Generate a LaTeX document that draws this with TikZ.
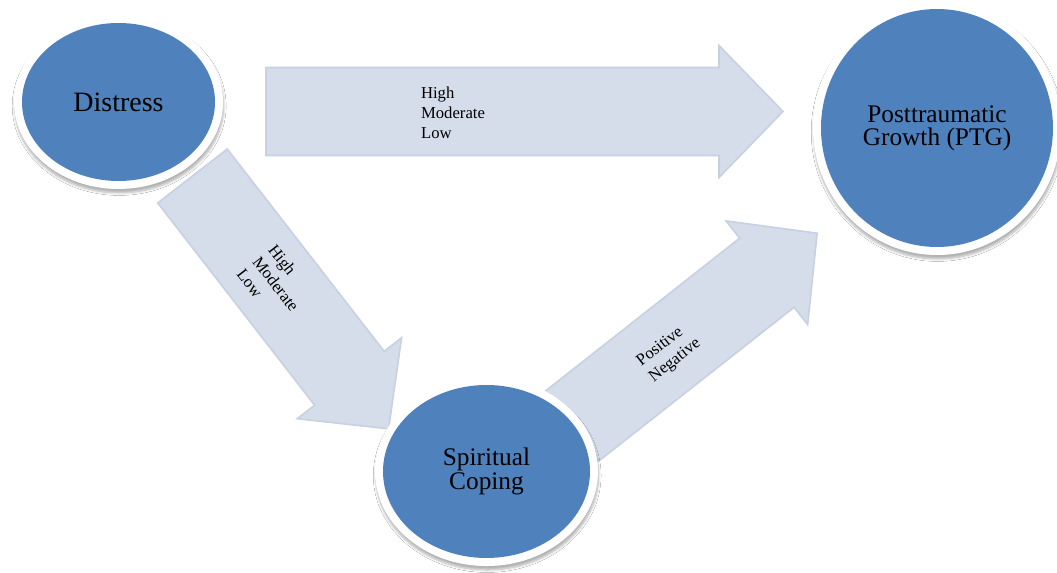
\documentclass[tikz,border=0pt]{standalone}
\usepackage{fontspec}
\setmainfont{Liberation Serif}
\usetikzlibrary{shapes.geometric,shadows.blur}

\definecolor{bubblefill}{RGB}{79,129,189}
\definecolor{arrowfill}{RGB}{213,220,234}
\definecolor{arrowline}{RGB}{200,209,226}

\pgfdeclarelayer{arrows}
\pgfdeclarelayer{halos}
\pgfsetlayers{arrows,halos,main}

% block arrow along the local x axis, tail at the origin, tip at (#1,0)
\newcommand\fatarrow[1]{(0,-44) -- (#1-64,-44) -- (#1-64,-66) -- (#1,0)
  -- (#1-64,66) -- (#1-64,44) -- (0,44) -- cycle}

\begin{document}
\begin{tikzpicture}[x=0.75pt,y=-0.75pt,
  bubble/.style={ellipse, fill=bubblefill, inner sep=0pt, align=center, text=black},
  halo/.style={fill=white, blur shadow={shadow xshift=0.5pt, shadow yshift=-3pt,
      shadow blur radius=1.8pt, shadow blur steps=6, shadow opacity=30}},
  blockarrow/.style={fill=arrowfill, draw=arrowline, line width=1.2pt, line join=miter},
  tag/.style={align=left, font=\fontsize{12.5}{15}\selectfont, inner sep=0pt},
  bigtext/.style={font=\fontsize{19}{17.5}\selectfont}]

\useasboundingbox (0,0) rectangle (1057,573);

% the three factors
\node[bubble, minimum width=144.75pt, minimum height=118.5pt,
      font=\fontsize{21}{24}\selectfont] (dis) at (118.5,102) {Distress};
\node[bubble, bigtext, minimum width=174pt, minimum height=178.5pt]
      (ptg) at (937,128) {Posttraumatic\\Growth (PTG)};
\node[bubble, bigtext, minimum width=155.25pt, minimum height=129.75pt]
      (sc) at (486.5,471.5) {Spiritual\\Coping};

% white rims with a soft shadow below each factor
\begin{pgfonlayer}{halos}
  \fill[halo] (dis.center) ellipse [x radius=78.4pt, y radius=65.25pt];
  \fill[halo] (ptg.center) ellipse [x radius=93pt, y radius=95.25pt];
  \fill[halo] (sc.center) ellipse [x radius=83.6pt, y radius=70.9pt];
\end{pgfonlayer}

% block arrows between the factors
\coordinate (t1) at (266,111.5);
\coordinate (t2) at (192.5,176);
\coordinate (t3) at (571.5,426.5);
\begin{pgfonlayer}{arrows}
  \fill[white] (0,0) rectangle (1057,573);
  \begin{scope}[shift={(t1)}]
    \draw[blockarrow] \fatarrow{517};
  \end{scope}
  \begin{scope}[shift={(t2)}, rotate=-52.2]
    \draw[blockarrow] \fatarrow{320};
  \end{scope}
  \begin{scope}[shift={(t3)}, rotate=38.2]
    \draw[blockarrow] \fatarrow{312.6};
  \end{scope}
\end{pgfonlayer}

% arrow labels
\node[tag] (l1) at (453,113) {High\\Moderate\\Low};
\node[tag, rotate=-52.2] (l2) at (276,284) {High\\Moderate\\Low};
\node[tag, rotate=38.2] (l3) at (669,353) {Positive\\Negative};

\end{tikzpicture}
\end{document}
